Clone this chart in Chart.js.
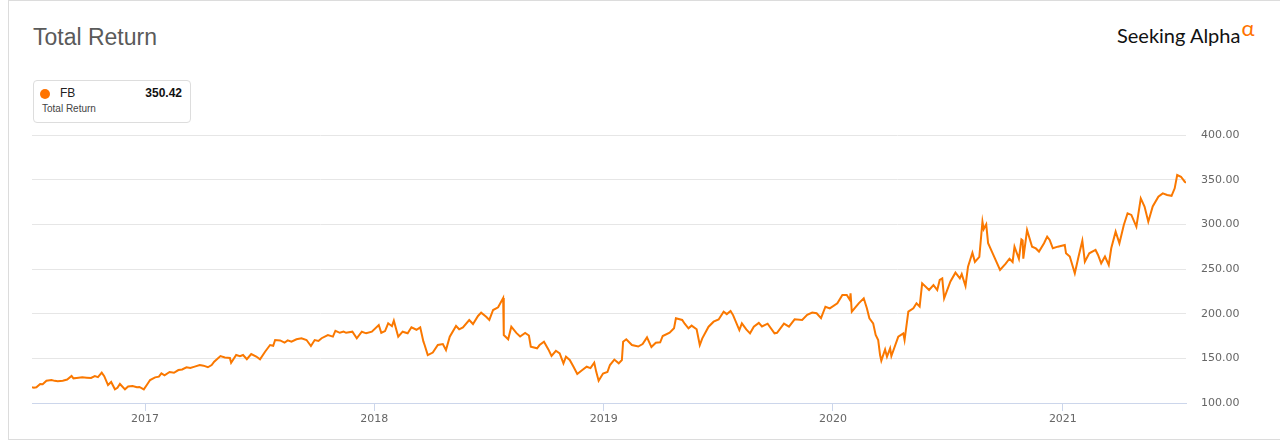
<!DOCTYPE html>
<html>
<head>
<meta charset="utf-8">
<title>Total Return</title>
<script src="https://cdn.jsdelivr.net/npm/chart.js@4/dist/chart.umd.min.js"></script>
<style>
  html, body { margin: 0; padding: 0; background: #fff; }
  body { width: 1280px; height: 443px; position: relative; overflow: hidden; font-family: "Liberation Sans", Arial, sans-serif; }
  .frame { position: absolute; left: 8px; top: 0; width: 1300px; height: 440px; border: 1px solid #dcdcdc; box-sizing: border-box; }
  .title { position: absolute; left: 33px; top: 24px; font-size: 23px; color: #5a5a5a; }
  .logo { position: absolute; left: 1117px; top: 23px; font-family: Lato, "Open Sans", sans-serif; font-weight: 400; font-size: 20px; color: #111; letter-spacing: 0; }
  .logo sup { color: #ff7300; font-size: 22px; position: relative; top: -6px; margin-left: 1px; vertical-align: top; line-height: 1; font-weight: 400; }
  .legend { position: absolute; left: 33px; top: 80px; width: 158px; height: 43px; border: 1px solid #ddd; border-radius: 4px; box-sizing: border-box; }
  .legend .dot { position: absolute; left: 6px; top: 8px; width: 10px; height: 10px; border-radius: 50%; background: #ff7300; }
  .legend .name { position: absolute; left: 26px; top: 5px; font-size: 12px; color: #222; }
  .legend .val { position: absolute; right: 8px; top: 5px; font-size: 12px; color: #111; font-weight: bold; }
  .legend .sub { position: absolute; left: 8px; top: 22px; font-size: 10px; color: #444; }
  canvas { position: absolute; left: 0; top: 0; }
</style>
</head>
<body>
<div class="frame"></div>
<div class="title">Total Return</div>
<div class="logo">Seeking Alpha<sup>α</sup></div>
<div class="legend">
  <div class="dot"></div>
  <div class="name" id="legName"></div>
  <div class="val" id="legVal"></div>
  <div class="sub">Total Return</div>
</div>
<canvas id="chart" width="1280" height="443"></canvas>
<script>
const ticker = 'FB';
const lastReturn = '350.42';

const dates = [
  '2016-07-05','2016-07-08','2016-07-12','2016-07-18','2016-07-22','2016-07-28','2016-08-05','2016-08-10','2016-08-15','2016-08-23',
  '2016-08-30','2016-09-06','2016-09-09','2016-09-14','2016-09-23','2016-09-30','2016-10-07','2016-10-13','2016-10-18','2016-10-24',
  '2016-10-28','2016-11-03','2016-11-08','2016-11-14','2016-11-18','2016-11-22','2016-11-30','2016-12-05','2016-12-12','2016-12-19',
  '2016-12-23','2016-12-30','2017-01-04','2017-01-09','2017-01-17','2017-01-23','2017-01-27','2017-02-01','2017-02-09','2017-02-16',
  '2017-02-23','2017-03-01','2017-03-08','2017-03-14','2017-03-21','2017-03-29','2017-04-04','2017-04-11','2017-04-17','2017-04-21',
  '2017-05-01','2017-05-08','2017-05-16','2017-05-18','2017-05-26','2017-06-01','2017-06-06','2017-06-12','2017-06-19','2017-06-27',
  '2017-07-03','2017-07-11','2017-07-19','2017-07-24','2017-07-27','2017-08-04','2017-08-11','2017-08-16','2017-08-22','2017-08-30',
  '2017-09-07','2017-09-15','2017-09-22','2017-09-28','2017-10-04','2017-10-09','2017-10-19','2017-10-27','2017-10-31','2017-11-07',
  '2017-11-13','2017-11-17','2017-11-27','2017-12-04','2017-12-12','2017-12-19','2017-12-28','2018-01-08','2018-01-12','2018-01-18',
  '2018-01-23','2018-01-29','2018-02-01','2018-02-08','2018-02-15','2018-02-23','2018-03-01','2018-03-09','2018-03-15','2018-03-20',
  '2018-03-22','2018-03-27','2018-04-04','2018-04-12','2018-04-20','2018-04-25','2018-05-01','2018-05-11','2018-05-16','2018-05-22',
  '2018-06-01','2018-06-07','2018-06-15','2018-06-20','2018-06-28','2018-07-03','2018-07-09','2018-07-17','2018-07-25','2018-07-26',
  '2018-08-02','2018-08-07','2018-08-15','2018-08-21','2018-08-29','2018-09-04','2018-09-07','2018-09-17','2018-09-21','2018-09-28',
  '2018-10-05','2018-10-10','2018-10-17','2018-10-23','2018-10-29','2018-11-02','2018-11-08','2018-11-14','2018-11-20','2018-11-27',
  '2018-12-05','2018-12-11','2018-12-17','2018-12-20','2018-12-24','2018-12-31','2019-01-07','2019-01-11','2019-01-18','2019-01-25',
  '2019-01-30','2019-02-01','2019-02-06','2019-02-15','2019-02-25','2019-03-04','2019-03-11','2019-03-18','2019-03-25','2019-04-01',
  '2019-04-05','2019-04-16','2019-04-23','2019-04-26','2019-05-06','2019-05-10','2019-05-16','2019-05-21','2019-05-29','2019-06-03',
  '2019-06-07','2019-06-17','2019-06-25','2019-07-03','2019-07-11','2019-07-16','2019-07-22','2019-07-26','2019-08-05','2019-08-09',
  '2019-08-16','2019-08-22','2019-08-28','2019-09-05','2019-09-10','2019-09-19','2019-09-30','2019-10-04','2019-10-15','2019-10-23',
  '2019-11-01','2019-11-13','2019-11-21','2019-11-29','2019-12-06','2019-12-13','2019-12-20','2019-12-27','2020-01-08','2020-01-16',
  '2020-01-23','2020-01-28','2020-01-29','2020-01-31','2020-02-11','2020-02-19','2020-02-24','2020-02-28','2020-03-05','2020-03-09',
  '2020-03-13','2020-03-16','2020-03-18','2020-03-24','2020-03-27','2020-04-01','2020-04-03','2020-04-14','2020-04-22','2020-04-24',
  '2020-04-30','2020-05-08','2020-05-13','2020-05-18','2020-05-22','2020-06-02','2020-06-09','2020-06-15','2020-06-19','2020-06-23',
  '2020-06-26','2020-07-06','2020-07-14','2020-07-21','2020-07-24','2020-07-30','2020-08-03','2020-08-10','2020-08-14','2020-08-21',
  '2020-08-26','2020-08-28','2020-09-01','2020-09-04','2020-09-10','2020-09-23','2020-10-02','2020-10-08','2020-10-13','2020-10-16',
  '2020-10-23','2020-10-27','2020-10-29','2020-10-30','2020-11-05','2020-11-13','2020-11-19','2020-11-24','2020-12-02','2020-12-07',
  '2020-12-11','2020-12-16','2020-12-24','2021-01-04','2021-01-06','2021-01-12','2021-01-20','2021-01-26','2021-02-01','2021-02-05',
  '2021-02-12','2021-02-22','2021-02-26','2021-03-03','2021-03-09','2021-03-15','2021-03-19','2021-03-26','2021-04-01','2021-04-08',
  '2021-04-14','2021-04-20','2021-04-28','2021-05-05','2021-05-11','2021-05-17','2021-05-24','2021-06-02','2021-06-09','2021-06-16',
  '2021-06-23','2021-06-28','2021-07-02','2021-07-08','2021-07-14','2021-07-16'
];

const returns = [
  117.6,117.0,117.6,121.3,121.0,125.0,125.7,124.8,124.3,125.0,
  126.2,130.2,127.6,128.0,128.7,128.3,128.0,130.2,129.0,133.9,
  130.0,120.1,123.5,115.3,117.0,121.3,115.3,118.5,119.0,117.6,
  118.0,115.3,120.5,125.7,128.7,129.5,133.2,131.0,134.7,133.8,
  136.9,137.5,140.0,139.2,140.7,142.5,141.8,140.0,142.5,146.3,
  152.6,151.0,150.5,145.0,153.7,152.3,153.7,149.0,154.8,152.0,
  148.9,157.4,164.9,164.0,170.5,170.0,167.5,170.1,168.6,171.3,
  172.5,170.5,163.8,170.5,169.5,172.5,176.1,174.3,180.9,178.6,
  180.0,178.6,179.8,172.4,179.8,178.0,179.8,187.3,178.6,180.5,
  189.2,186.0,192.1,174.2,179.8,178.0,184.7,182.0,184.7,169.0,
  164.9,153.7,156.5,164.9,166.0,159.3,174.2,186.2,182.5,184.7,
  192.9,188.4,197.4,201.1,196.6,193.0,204.1,207.1,217.5,176.1,
  171.3,185.4,178.5,174.5,178.5,175.6,163.0,161.2,164.9,168.6,
  160.0,152.6,158.5,155.6,144.4,151.9,148.2,140.6,132.5,136.3,
  140.6,139.0,145.2,135.4,125.0,133.0,134.7,142.5,148.6,144.4,
  148.1,168.6,171.3,164.9,163.2,166.0,173.5,162.6,167.5,168.0,
  175.0,178.7,183.6,194.8,193.0,188.7,183.6,186.6,182.5,164.9,
  172.4,185.4,191.0,193.5,202.2,199.5,203.0,198.4,181.7,189.2,
  182.4,178.0,185.4,189.7,185.7,188.8,178.0,178.6,188.8,185.4,
  193.7,193.0,198.7,201.3,200.5,195.0,207.8,205.9,211.6,220.9,
  220.9,215.3,222.8,202.2,211.6,217.2,206.0,194.8,189.2,176.1,
  170.5,153.7,147.4,160.0,151.9,161.2,152.6,174.2,178.0,170.5,
  202.2,205.9,211.6,208.0,234.0,226.5,232.0,226.5,237.7,239.5,
  217.2,236.0,245.9,239.5,244.3,231.0,252.6,268.2,258.0,263.6,
  303.0,294.7,300.0,278.8,269.5,248.9,256.0,261.5,257.9,275.0,
  261.5,283.2,282.0,261.5,293.6,275.0,273.0,269.5,278.8,286.2,
  282.5,273.2,275.0,276.9,267.6,263.9,245.2,263.9,281.7,258.2,
  267.6,271.3,265.7,256.4,263.9,254.6,273.2,291.8,278.8,299.3,
  312.4,310.5,297.4,329.1,320.0,303.0,320.0,331.0,334.7,332.8,
  331.9,340.3,355.2,353.3,347.7,346.5
];

const yTicks = [100, 150, 200, 250, 300, 350, 400];
const yearTicks = [2017, 2018, 2019, 2020, 2021];

document.getElementById('legName').textContent = ticker;
document.getElementById('legVal').textContent = lastReturn;

function toTime(d) {
  const p = d.split('-');
  return Date.UTC(+p[0], +p[1] - 1, +p[2]);
}

const points = dates.map((d, i) => ({ x: toTime(d), y: returns[i] }));

new Chart(document.getElementById('chart'), {
  type: 'line',
  data: {
    datasets: [{
      label: ticker,
      data: points,
      borderColor: '#fa7800',
      borderWidth: 2,
      pointRadius: 0,
      tension: 0,
      fill: false
    }]
  },
  options: {
    responsive: false,
    animation: false,
    layout: { padding: { left: 32, right: 34, top: 135, bottom: 0 } },
    plugins: { legend: { display: false }, tooltip: { enabled: false } },
    scales: {
      x: {
        type: 'linear',
        min: toTime(dates[0]),
        max: toTime(dates[dates.length - 1]),
        afterBuildTicks: s => { s.ticks = yearTicks.map(y => ({ value: Date.UTC(y, 0, 1) })); },
        afterFit: s => { s.height = 40; },
        grid: { drawOnChartArea: false, drawTicks: true, tickLength: 8, color: '#ccd6eb' },
        border: { display: true, color: '#ccd6eb' },
        ticks: {
          padding: 2,
          maxRotation: 0,
          autoSkip: false,
          color: '#666',
          font: { family: 'DejaVu Sans', size: 11 },
          callback: v => new Date(v).getUTCFullYear()
        }
      },
      y: {
        position: 'right',
        min: 100,
        max: 400,
        afterBuildTicks: s => { s.ticks = yTicks.map(v => ({ value: v })); },
        afterFit: s => { s.width = 60; },
        grid: {
          drawTicks: false,
          color: c => (c.tick && c.tick.value === 100) ? '#ccd6eb' : '#e6e6e6'
        },
        border: { display: false },
        ticks: {
          padding: 15,
          color: '#666',
          font: { family: 'DejaVu Sans', size: 11 },
          callback: v => v.toFixed(2)
        }
      }
    }
  }
});
</script>
</body>
</html>
